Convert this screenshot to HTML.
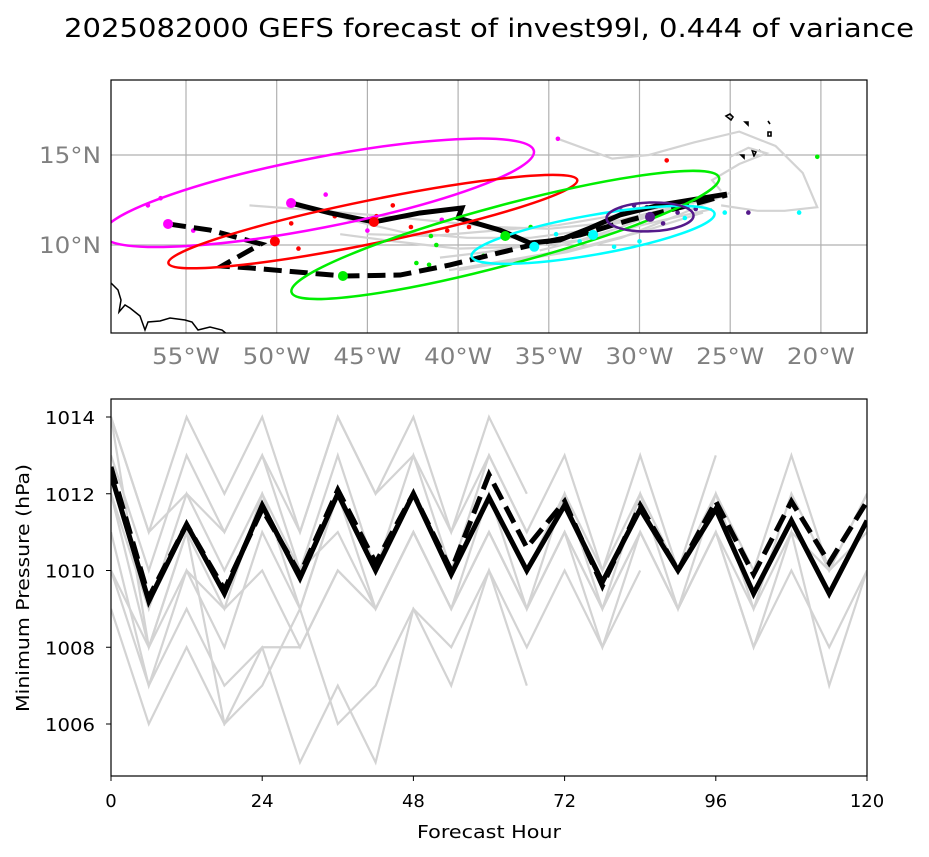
<!DOCTYPE html>
<html><head><meta charset="utf-8">
<style>
html,body{margin:0;padding:0;background:#fff;}
svg{display:block;font-family:"DejaVu Sans","Liberation Sans",sans-serif;}
</style></head>
<body>
<svg id="fig" width="929" height="857" viewBox="0 0 929 857" xmlns="http://www.w3.org/2000/svg">
<text x="489" y="37" font-size="26" text-anchor="middle" textLength="850" lengthAdjust="spacingAndGlyphs" fill="#000">2025082000 GEFS forecast of invest99l, 0.444 of variance</text>
<defs>
<clipPath id="mapclip"><rect x="111" y="80" width="756" height="253"/></clipPath>
<clipPath id="pclip"><rect x="111" y="399" width="756" height="377"/></clipPath>
</defs>
<g id="map"></g>
<g id="pres"></g>
</svg>
<script>
// ---------------- MAP DATA ----------------
var lonTicks = [55, 50, 45, 40, 35, 30, 25, 20];
var latTicks = [10, 15];
var meanLon = [49.21, 47.06, 44.64, 42.1, 39.79, 40.0, 37.69, 36.04, 34.38, 32.73, 31.08, 28.87, 25.18];
var meanLat = [12.33, 11.78, 11.28, 11.78, 12.06, 11.5, 10.83, 10.11, 10.28, 10.94, 11.67, 12.22, 12.83];
var ctrlLon = [55.99, 53.68, 50.87, 52.24, 53.02, 51.42, 46.35, 43.2, 40.45, 38.24, 35.49, 33.28, 30.52, 27.22, 25.18];
var ctrlLat = [11.17, 10.83, 10.06, 9.28, 8.83, 8.72, 8.28, 8.33, 8.89, 9.44, 10.11, 10.56, 11.39, 12.22, 12.78];
var memberLons = [
  [26.5, 29.0, 32.0, 35.0, 38.0, 41.0, 44.0, 47.5, 51.5],
  [27.0, 30.0, 33.0, 36.0, 39.5, 43.0, 46.0, 49.0],
  [26.0, 29.5, 33.0, 36.5, 40.0, 43.5, 46.5],
  [26.5, 30.0, 33.5, 37.0, 40.5],
  [27.5, 31.0, 34.5, 38.0, 41.5, 45.0],
  [26.0, 28.5, 31.0, 33.5, 36.0, 38.5, 41.0],
  [25.5, 23.5, 22.0, 20.2, 21.0, 22.5, 24.5, 27.0, 29.5, 31.5, 34.5],
  [25.5, 26.0, 24.5, 23.0, 24.0, 25.0],
  [25.0, 28.0, 31.0, 34.0, 37.0, 40.0],
  [26.0, 28.5, 31.0, 33.5, 35.5]
];
var memberLats = [
  [12.5, 11.8, 11.2, 10.9, 11.0, 11.3, 11.6, 11.9, 12.2],
  [12.2, 11.5, 10.8, 10.4, 10.4, 10.7, 11.4, 12.4],
  [12.0, 11.2, 10.3, 9.9, 9.8, 10.2, 10.6],
  [11.8, 10.7, 9.8, 9.2, 8.6],
  [12.3, 11.7, 11.1, 10.8, 10.5, 10.6],
  [12.6, 12.0, 11.4, 10.6, 10.0, 9.6, 9.3],
  [12.2, 11.9, 11.9, 12.1, 14.0, 15.5, 16.3, 15.7, 15.0, 14.8, 15.9],
  [13.0, 13.6, 14.5, 15.1, 15.4, 14.9],
  [12.9, 11.6, 10.4, 9.6, 9.1, 8.6],
  [12.7, 12.0, 11.0, 10.2, 9.7]
];
var ellipseColors = ["#ff00ff", "#ff0000", "#00ee00", "#00ffff", "#551a8b"];
var ellLon = [47.7, 44.7, 37.4, 32.56, 29.42];
var ellLat = [12.9, 11.3, 10.56, 10.56, 11.56];
var ellA = [12.1, 11.5, 12.2, 6.8, 2.4];
var ellB = [1.95, 1.2, 1.65, 1.1, 0.8];
var ellAng = [-11, -11.5, -15, -10, -2];
var bigDotLon = [55.99, 49.21, 50.1, 44.64, 46.35, 37.4, 35.8, 32.56, 29.42];
var bigDotLat = [11.17, 12.33, 10.2, 11.28, 8.28, 10.5, 9.9, 10.56, 11.56];
var bigDotCol = [0, 0, 1, 1, 2, 2, 3, 3, 4];
var dotLon = [57.1, 56.4, 54.6, 47.3, 45.0, 40.9, 34.5, 49.2, 48.8, 46.8, 44.5, 43.6, 42.6, 40.6, 39.4, 28.5, 41.5, 41.2, 39.0, 36.0, 38.6, 32.8, 20.2, 42.3, 41.6, 34.6, 33.3, 31.4, 30.0, 27.5, 25.3, 21.2, 31.0, 30.3, 29.6, 28.7, 27.9, 26.9, 24.0];
var dotLat = [12.2, 12.6, 10.8, 12.8, 10.8, 11.4, 15.9, 11.2, 9.8, 11.6, 11.6, 12.2, 11.0, 10.8, 11.0, 14.7, 10.5, 10.0, 11.3, 11.0, 9.4, 10.6, 14.9, 9.0, 8.9, 10.6, 10.2, 9.9, 10.2, 11.5, 11.8, 11.8, 11.9, 12.2, 12.1, 11.2, 11.8, 12.0, 11.8];
var dotCol = [0, 0, 0, 0, 0, 0, 0, 1, 1, 1, 1, 1, 1, 1, 1, 1, 2, 2, 2, 2, 2, 2, 2, 2, 2, 3, 3, 3, 3, 3, 3, 3, 4, 4, 4, 4, 4, 4, 4];

// ---------------- PRESSURE DATA ----------------
var hours = [0, 6, 12, 18, 24, 30, 36, 42, 48, 54, 60, 66, 72, 78, 84, 90, 96, 102, 108, 114, 120];
var xTicks = [0, 24, 48, 72, 96, 120];
var yTicks = [1006, 1008, 1010, 1012, 1014];
var meanP = [1012.5, 1009.2, 1011.2, 1009.4, 1011.7, 1009.8, 1012.0, 1010.0, 1012.0, 1009.9, 1011.9, 1010.0, 1011.7, 1009.7, 1011.6, 1010.0, 1011.6, 1009.4, 1011.3, 1009.4, 1011.3];
var ctrlP = [1012.7, 1009.3, 1011.2, 1009.5, 1011.6, 1009.9, 1012.1, 1010.2, 1012.0, 1010.0, 1012.5, 1010.6, 1011.8, 1009.6, 1011.7, 1010.0, 1011.8, 1009.9, 1011.8, 1010.2, 1011.8];
var memberP = [
  [1014, 1011, 1014, 1012, 1014, 1011, 1014, 1012, 1014, 1011, 1014, 1012],
  [1013, 1010, 1013, 1011, 1013, 1010, 1013, 1010, 1013, 1010, 1013, 1011, 1013, 1010, 1013, 1010, 1013],
  [1012, 1009, 1012, 1010, 1012, 1009, 1012, 1010, 1012, 1010, 1012, 1010, 1012, 1010, 1012, 1010, 1012, 1010, 1013, 1010, 1012],
  [1012, 1008, 1011, 1009, 1012, 1010, 1011, 1009, 1011, 1009, 1012, 1009, 1012, 1009, 1012, 1009, 1012, 1009, 1012, 1010, 1012],
  [1011, 1007, 1010, 1008, 1011, 1009, 1012, 1009, 1011, 1009, 1011, 1009, 1011, 1009, 1011, 1009, 1011, 1009, 1011, 1010, 1011],
  [1010, 1008, 1010, 1009, 1010, 1008, 1010, 1009, 1011, 1009, 1011, 1009, 1011, 1009, 1011, 1009, 1011, 1008, 1011, 1007, 1010],
  [1009, 1006, 1008, 1006, 1008, 1008, 1010, 1009, 1011, 1009, 1011, 1009, 1011, 1008, 1011, 1009, 1011, 1008, 1010, 1008, 1010],
  [1010, 1007, 1009, 1007, 1008, 1005, 1007, 1005, 1009, 1008, 1010, 1008, 1010, 1008, 1010],
  [1014, 1008, 1011, 1006, 1007, 1009, 1006, 1007, 1009, 1007, 1010, 1007],
  [1014, 1011, 1012, 1011, 1013, 1011, 1014, 1012, 1013, 1011, 1013, 1011]
];

var NS = "http://www.w3.org/2000/svg";
function mk(parent, tag, attrs) {
  var e = document.createElementNS(NS, tag);
  for (var k in attrs) e.setAttribute(k, attrs[k]);
  parent.appendChild(e);
  return e;
}
// ---- map axes ----
var mapX0 = 111, mapX1 = 867, mapY0 = 80, mapY1 = 333;
function lonX(lw) { return 186 + (55 - lw) * 18.14; }
function latY(lt) { return 245 - (lt - 10) * 18; }
var map = document.getElementById('map');
var gGrid = mk(map, 'g', {});
lonTicks.forEach(function (l) {
  var ln = mk(gGrid, 'line', {x1: lonX(l), x2: lonX(l), y1: mapY0, y2: mapY1, stroke: '#b0b0b0', 'stroke-width': 1.2});
  
  
  var t = mk(map, 'text', {x: lonX(l), y: 364, 'font-size': 22, fill: '#808080', 'text-anchor': 'middle', textLength: 68, lengthAdjust: 'spacingAndGlyphs'});
  t.textContent = l + '°W';
  
  
});
latTicks.forEach(function (l) {
  var ln = mk(gGrid, 'line', {x1: mapX0, x2: mapX1, y1: latY(l), y2: latY(l), stroke: '#b0b0b0', 'stroke-width': 1.2});
  
  
  var t = mk(map, 'text', {x: 101, y: latY(l) + 8, 'font-size': 22, fill: '#808080', 'text-anchor': 'end', textLength: 62, lengthAdjust: 'spacingAndGlyphs'});
  t.textContent = l + '°N';
  
  
});
var gc = mk(map, 'g', {'clip-path': 'url(#mapclip)'});
var coast = mk(gc, 'path', {d: 'M111,283 L118,290 L121,300 L119,312 L125,305 L130,308 L140,316 L145,330 L148,322 L160,321 L170,318 L185,320 L192,322 L198,330 L210,327 L222,330 L228,335', fill: 'none', stroke: '#000', 'stroke-width': 1.5});


var isl = mk(gc, 'path', {d: 'M726,116 l4,-2 l3,3 l-2,3 z M745,122 l3,0 l0,3 z M768,121 l2,3 M768,132 l3,0 l0,4 l-3,0 z M741,155 l3,0 l0,3 z M752,150 l4,2 l-2,4 z M759,150 l2,2', fill: 'none', stroke: '#000', 'stroke-width': 1.6});


memberLons.forEach(function (lons, i) {
  var lats = memberLats[i];
  var pts = lons.map(function (l, j) { return lonX(l) + ',' + latY(lats[j]); }).join(' ');
  var p = mk(gc, 'polyline', {points: pts, fill: 'none', stroke: '#d3d3d3', 'stroke-width': 2.2});
  
  
});
dotLon.forEach(function (l, i) {
  var c = mk(gc, 'circle', {cx: lonX(l), cy: latY(dotLat[i]), r: 2.3, fill: ellipseColors[dotCol[i]]});
  
  
});
var mp = mk(gc, 'polyline', {points: meanLon.map(function (l, j) { return lonX(l) + ',' + latY(meanLat[j]); }).join(' '), fill: 'none', stroke: '#000', 'stroke-width': 5});


var cp = mk(gc, 'polyline', {points: ctrlLon.map(function (l, j) { return lonX(l) + ',' + latY(ctrlLat[j]); }).join(' '), fill: 'none', stroke: '#000', 'stroke-width': 5, 'stroke-dasharray': '18,8'});


ellLon.forEach(function (l, i) {
  var cx = lonX(l), cy = latY(ellLat[i]);
  var e = mk(gc, 'ellipse', {cx: cx, cy: cy, rx: ellA[i] * 18.14, ry: ellB[i] * 18, fill: 'none', stroke: ellipseColors[i], 'stroke-width': 2.5, transform: 'rotate(' + ellAng[i] + ' ' + cx + ' ' + cy + ')'});
  
  
});
bigDotLon.forEach(function (l, i) {
  var c = mk(gc, 'circle', {cx: lonX(l), cy: latY(bigDotLat[i]), r: 5, fill: ellipseColors[bigDotCol[i]]});
  
  
});
var mf = mk(map, 'rect', {x: mapX0, y: mapY0, width: mapX1 - mapX0, height: mapY1 - mapY0, fill: 'none', stroke: '#000', 'stroke-width': 1.2});



// ---- pressure axes ----
var px0 = 111, px1 = 867, py0 = 399, py1 = 776;
function hx(h) { return px0 + h / 120 * (px1 - px0); }
function py(p) { return 417 + (1014 - p) * 38.375; }
var pres = document.getElementById('pres');
var pc = mk(pres, 'g', {'clip-path': 'url(#pclip)'});
memberP.forEach(function (vals) {
  var pts = vals.map(function (v, j) { return hx(hours[j]) + ',' + py(v); }).join(' ');
  var p = mk(pc, 'polyline', {points: pts, fill: 'none', stroke: '#d3d3d3', 'stroke-width': 2.2});
  
  
});
var ml = mk(pc, 'polyline', {points: meanP.map(function (v, j) { return hx(hours[j]) + ',' + py(v); }).join(' '), fill: 'none', stroke: '#000', 'stroke-width': 5});


var cl = mk(pc, 'polyline', {points: ctrlP.map(function (v, j) { return hx(hours[j]) + ',' + py(v); }).join(' '), fill: 'none', stroke: '#000', 'stroke-width': 5, 'stroke-dasharray': '18,8'});


var pf = mk(pres, 'rect', {x: px0, y: py0, width: px1 - px0, height: py1 - py0, fill: 'none', stroke: '#000', 'stroke-width': 1.2});


xTicks.forEach(function (h) {
  var tk = mk(pres, 'line', {x1: hx(h), x2: hx(h), y1: py1, y2: py1 + 5, stroke: '#000', 'stroke-width': 1});
  
  
  var t = mk(pres, 'text', {x: hx(h), y: 807, 'font-size': 18, 'text-anchor': 'middle', fill: '#000'});
  t.textContent = h;
  
  
});
yTicks.forEach(function (v) {
  var tk = mk(pres, 'line', {x1: px0 - 5, x2: px0, y1: py(v), y2: py(v), stroke: '#000', 'stroke-width': 1});
  
  
  var t = mk(pres, 'text', {x: 95, y: py(v) + 7, 'font-size': 18, 'text-anchor': 'end', fill: '#000', textLength: 50, lengthAdjust: 'spacingAndGlyphs'});
  t.textContent = v;
  
  
});
var xt = mk(pres, 'text', {x: 489, y: 838, 'font-size': 18, 'text-anchor': 'middle', fill: '#000', textLength: 144, lengthAdjust: 'spacingAndGlyphs'});
xt.textContent = 'Forecast Hour';


var yt = mk(pres, 'text', {x: 0, y: 0, 'font-size': 18, 'text-anchor': 'middle', fill: '#000', textLength: 248, lengthAdjust: 'spacingAndGlyphs', transform: 'translate(29,588) rotate(-90)'});
yt.textContent = 'Minimum Pressure (hPa)';


</script>
</body></html>
